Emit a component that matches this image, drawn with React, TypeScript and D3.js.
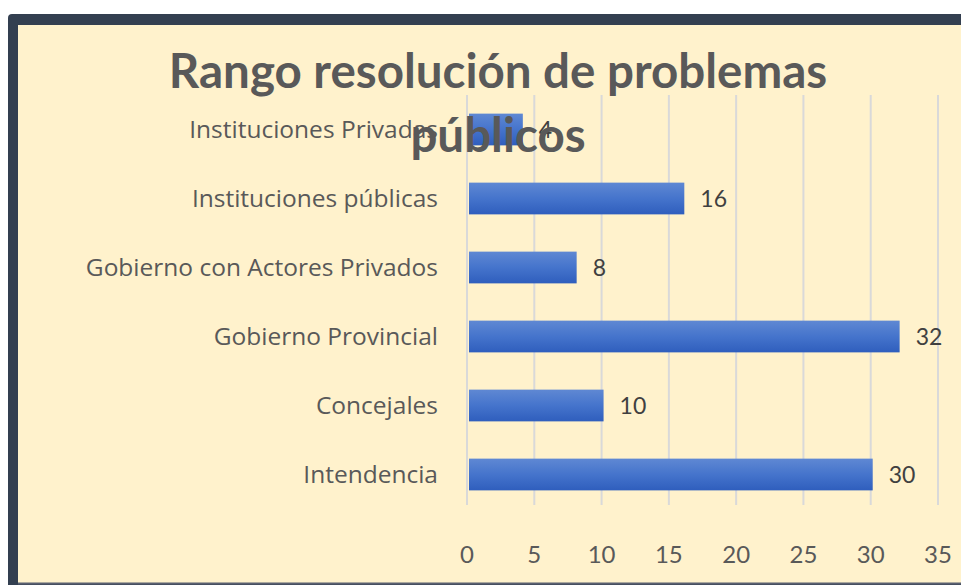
import React from "react";
import * as d3 from "d3";

const categories = [
  "Instituciones Privadas",
  "Instituciones públicas",
  "Gobierno con Actores Privados",
  "Gobierno Provincial",
  "Concejales",
  "Intendencia",
];
const values = [4, 16, 8, 32, 10, 30];
const ticks = [0, 5, 10, 15, 20, 25, 30, 35];
const titleLines = ["Rango resolución de problemas", "públicos"];

const W = 961;
const H = 585;
const FONT = "Lato, 'Open Sans', sans-serif";
const LABEL_FONT = "'Open Sans', Lato, sans-serif";

export default function App() {
  const x = d3.scaleLinear().domain([0, 35]).range([467, 938]);
  const y = d3
    .scaleBand<string>()
    .domain(categories)
    .range([95, 509])
    .paddingInner(0.54)
    .paddingOuter(0.27);

  return (
    <svg
      width={W}
      height={H}
      style={{ position: "absolute", left: 0, top: 0 }}
      fontFamily={FONT}
    >
      <defs>
        <linearGradient id="barGrad" x1="0" y1="0" x2="0" y2="1">
          <stop offset="0" stopColor="#5f88d3" />
          <stop offset="0.5" stopColor="#4574cc" />
          <stop offset="1" stopColor="#2f5ebd" />
        </linearGradient>
      </defs>
      <rect x={0} y={0} width={W} height={H} fill="#ffffff" />
      {/* frame */}
      <rect x={8} y={14} width={W} height={H} rx={4} fill="#333f50" />
      <rect x={18} y={25} width={W} height={H - 25 - 2} fill="#fff2cc" />
      <line x1={18} x2={W} y1={H - 1.5} y2={H - 1.5} stroke="#5a6070" strokeWidth={2} />

      {/* gridlines */}
      {ticks.map((t) => (
        <line
          key={t}
          x1={x(t)}
          x2={x(t)}
          y1={95}
          y2={505}
          stroke="#d9d9d9"
          strokeWidth={2}
        />
      ))}

      {/* bars */}
      {categories.map((c, i) => (
        <g key={c}>
          <rect
            x={x(0) + 2}
            y={y(c)!}
            width={x(values[i]) - x(0)}
            height={y.bandwidth()}
            fill="url(#barGrad)"
          />
          <text
            x={x(values[i]) + 18}
            y={y(c)! + y.bandwidth() / 2}
            dy="0.35em"
            fontSize={23}
            fill="#404040"
          >
            {values[i]}
          </text>
          <text
            x={438}
            y={y(c)! + y.bandwidth() / 2}
            dy="0.35em"
            textAnchor="end"
            fontSize={24.5}
            fontFamily={LABEL_FONT}
            fill="#595959"
          >
            {c}
          </text>
        </g>
      ))}

      {/* x tick labels */}
      {ticks.map((t) => (
        <text
          key={t}
          x={x(t)}
          y={555}
          dy="0.35em"
          textAnchor="middle"
          fontSize={24}
          fill="#595959"
        >
          {t}
        </text>
      ))}

      {/* title */}
      {titleLines.map((l, i) => (
        <text
          key={l}
          x={498}
          y={88 + i * 64}
          textAnchor="middle"
          fontSize={47.5}
          fontWeight="bold"
          fill="#595959"
        >
          {l}
        </text>
      ))}
    </svg>
  );
}
